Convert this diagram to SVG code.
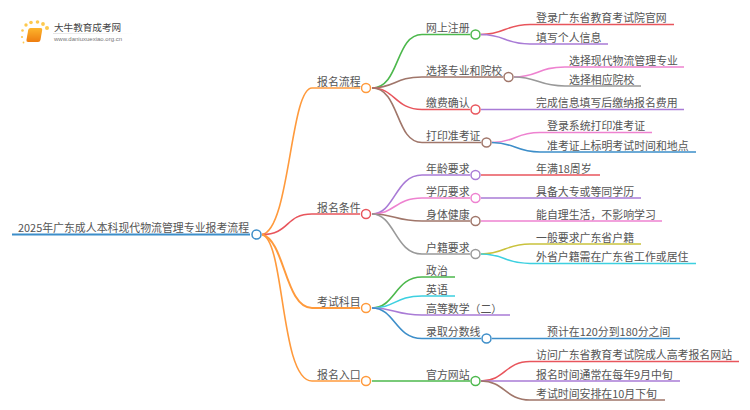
<svg xmlns="http://www.w3.org/2000/svg" width="750" height="410" viewBox="0 0 750 410">
<defs>
<linearGradient id="fade"><stop offset="0" stop-color="#ddd"/><stop offset="1" stop-color="#fff"/></linearGradient>
<linearGradient id="book" x1="0" y1="0" x2="0" y2="1"><stop offset="0" stop-color="#fdb52c"/><stop offset="1" stop-color="#ee7d10"/></linearGradient>
</defs>
<style>
text{font-family:"Noto Sans CJK SC","Liberation Sans",sans-serif;font-size:10.9px;fill:#555;transform:translateY(.7px)}
path{fill:none;stroke-width:1.6}
circle{fill:#fff;stroke-width:1.5}
.dot{fill:#fdc94e;stroke:none}
.o{stroke:#ff9a3c}.g{stroke:#4cb84c}.r{stroke:#e8555c}.p{stroke:#a97bd6}.k{stroke:#ee82d0}.b{stroke:#a0766a}.y{stroke:#999}.u{stroke:#3d8ec9}.c{stroke:#3dd0e0}.l{stroke:#c9c23c}
</style>
<rect width="750" height="410" fill="#fff"/>
<g id="logo">
<circle class="dot" cx="47" cy="28" r="2"/><circle class="dot" cx="26" cy="25" r="1.7"/><circle class="dot" cx="31" cy="22.5" r="1.8"/><circle class="dot" cx="37.5" cy="22" r="1.8"/><circle class="dot" cx="43" cy="24" r="1.9"/><circle class="dot" cx="22.5" cy="30.5" r="1.3"/><circle class="dot" cx="22" cy="37" r="1.1"/><circle class="dot" cx="23.5" cy="42.5" r="0.9"/>
<rect x="27.5" y="28" width="14" height="14" rx="2" fill="url(#book)" transform="skewX(-10) translate(6 0)"/>
<rect x="53" y="33" width="80" height="0.8" fill="url(#fade)"/>
<text x="54" y="30.5" style="font-size:9.6px;fill:#444">大牛教育成考网</text>
<text x="54" y="40.3" style="font-size:6px;fill:#777;font-family:'Liberation Sans',sans-serif">www.daniuxuexiao.org.cn</text>
</g>
<g id="connectors">
<path class="u" style="stroke-width:2" d="M12 234.500H250"/>
<path class="o" d="M262 234.500C290 230 290 88 312 88H360"/>
<path class="r" d="M262 234.500C290 234.500 285 214 312 214H360"/>
<path class="o" d="M262 234.500C285 240 285 308 312 308H360" style="stroke-width:2"/>
<path class="o" d="M262 234.500C285 240 280 381 312 381H360"/>
<path class="g" d="M372 88C400 88 395 34.500 422 34.500H470"/>
<path class="b" d="M372 88C395 88 395 77 422 77H503"/>
<path class="r" d="M372 88C395 88 395 109.500 422 109.500H470"/>
<path class="b" d="M372 88C400 88 395 142.500 422 142.500H481"/>
<path class="p" d="M372 214C395 214 395 175 422 175H470"/>
<path class="k" d="M372 214C395 214 395 198 422 198H470"/>
<path class="b" d="M372 214C395 214 395 221 422 221H470"/>
<path class="y" d="M372 214C395 214 395 254 422 254H470"/>
<path class="g" d="M372 308C395 308 395 277 422 277H455"/>
<path class="c" d="M372 308C395 308 395 296 422 296H455"/>
<path class="p" d="M372 308C395 308 395 315 422 315H510"/>
<path class="u" d="M372 308C395 308 395 338.500 422 338.500H481"/>
<path class="g" d="M372 381H470"/>
<path class="r" d="M481 34.500C505 34.500 505 24.500 530 24.500H674"/>
<path class="p" d="M481 34.500C505 34.500 505 44 530 44H608"/>
<path class="k" d="M514 77C538 77 538 67 565 67H684"/>
<path class="y" d="M514 77C538 77 538 86 565 86H641"/>
<path class="p" d="M481 109.500H684"/>
<path class="k" d="M492 142.500C515 142.500 515 132.500 540 132.500H652"/>
<path class="u" d="M492 142.500C515 142.500 515 152 540 152H696"/>
<path class="r" d="M481 175H600"/>
<path class="p" d="M481 198H641"/>
<path class="k" d="M481 221H662"/>
<path class="l" d="M481 254C505 254 505 244 530 244H641"/>
<path class="c" d="M481 254C505 254 505 263.500 530 263.500H696"/>
<path class="u" d="M492 338.500H680"/>
<path class="r" d="M481 381C505 381 505 361.500 530 361.500H739"/>
<path class="p" d="M481 381H680"/>
<path class="b" d="M481 381C505 381 505 400 530 400H665"/>
</g>
<g id="root"><text x="18" y="231">2025年广东成人本科现代物流管理专业报考流程</text><circle class="u" cx="256.500" cy="234.500" r="4.500"/></g>
<g id="n1"><text x="317" y="85">报名流程</text><circle class="o" cx="366" cy="88" r="4.500"/></g>
<g id="n2"><text x="317" y="211">报名条件</text><circle class="r" cx="366" cy="214" r="4.500"/></g>
<g id="n3"><text x="317" y="305">考试科目</text><circle class="o" cx="366" cy="308" r="4.500"/></g>
<g id="n4"><text x="317" y="378">报名入口</text><circle class="o" cx="366" cy="381" r="4.500"/></g>
<g id="n11"><text x="426" y="31">网上注册</text><circle class="g" cx="475.500" cy="34.500" r="4.500"/></g>
<g id="n12"><text x="426" y="74">选择专业和院校</text><circle class="b" cx="508.500" cy="77" r="4.500"/></g>
<g id="n13"><text x="426" y="106">缴费确认</text><circle class="r" cx="475.500" cy="109.500" r="4.500"/></g>
<g id="n14"><text x="426" y="139">打印准考证</text><circle class="b" cx="486.500" cy="142.500" r="4.500"/></g>
<g id="n21"><text x="426" y="172">年龄要求</text><circle class="p" cx="475.500" cy="175" r="4.500"/></g>
<g id="n22"><text x="426" y="195">学历要求</text><circle class="k" cx="475.500" cy="198" r="4.500"/></g>
<g id="n23"><text x="426" y="218">身体健康</text><circle class="b" cx="475.500" cy="221" r="4.500"/></g>
<g id="n24"><text x="426" y="251">户籍要求</text><circle class="y" cx="475.500" cy="254" r="4.500"/></g>
<g id="n31"><text x="426" y="274">政治</text></g>
<g id="n32"><text x="426" y="293">英语</text></g>
<g id="n33"><text x="426" y="312">高等数学（二）</text></g>
<g id="n34"><text x="426" y="335">录取分数线</text><circle class="u" cx="486.500" cy="338.500" r="4.500"/></g>
<g id="n41"><text x="426" y="378">官方网站</text><circle class="g" cx="475.500" cy="381" r="4.500"/></g>
<g id="leaves">
<text x="536" y="21">登录广东省教育考试院官网</text>
<text x="536" y="41">填写个人信息</text>
<text x="569" y="64">选择现代物流管理专业</text>
<text x="569" y="83">选择相应院校</text>
<text x="536" y="106">完成信息填写后缴纳报名费用</text>
<text x="547" y="129">登录系统打印准考证</text>
<text x="547" y="149">准考证上标明考试时间和地点</text>
<text x="536" y="172">年满18周岁</text>
<text x="536" y="195">具备大专或等同学历</text>
<text x="536" y="218">能自理生活，不影响学习</text>
<text x="536" y="241">一般要求广东省户籍</text>
<text x="536" y="260">外省户籍需在广东省工作或居住</text>
<text x="547" y="335">预计在120分到180分之间</text>
<text x="536" y="358">访问广东省教育考试院成人高考报名网站</text>
<text x="536" y="378">报名时间通常在每年9月中旬</text>
<text x="536" y="397">考试时间安排在10月下旬</text>
</g>
</svg>
